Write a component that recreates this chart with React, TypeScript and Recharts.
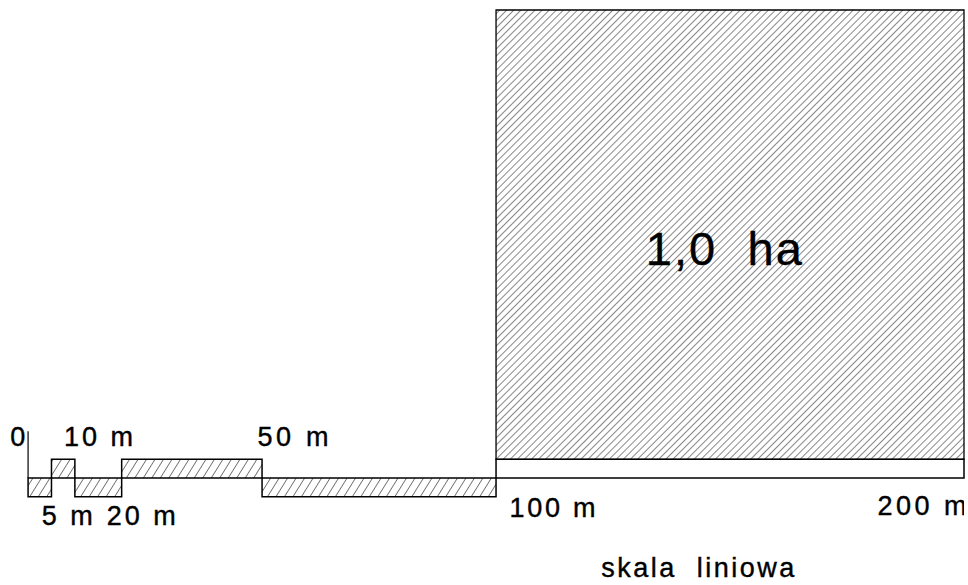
import React from "react";
import { ComposedChart, XAxis, YAxis, ReferenceArea, ReferenceLine, Scatter } from "recharts";

// odcinki skali liniowej, w metrach
const segStart = [0, 5, 10, 20, 50, 100];
const segEnd = [5, 10, 20, 50, 100, 200];
const segSide = ["down", "up", "down", "up", "down", "up"];
const segHatched = [true, true, true, true, true, false];
const barHeight = 4;

// kwadrat 1,0 ha
const squareX = [100, 200];
const squareY = [4, 100];

// podpisy (punkt zaczepienia w metrach)
const labelText = ["0", "10 m", "50 m", "5 m", "20 m", "100 m", "200 m", "skala  liniowa", "1,0  ha"];
const labelX = [-3.8, 7.7, 49.0, 2.9, 16.8, 102.9, 181.5, 122.5, 132.0];
const labelY = [6.8, 6.8, 6.8, -10.0, -10.0, -8.3, -7.8, -21.2, 45.5];

const labelData = labelText.map((text, i) => ({ x: labelX[i], y: labelY[i], text }));

const labelWidth: Record<string, number> = {
    "10 m": 69, "50 m": 71, "5 m": 51, "20 m": 69, "100 m": 86, "200 m": 89,
    "skala  liniowa": 193, "1,0  ha": 156,
};

const renderLabel = (props: any) => {
    const { cx, cy, payload } = props;
    const big = payload.text === "1,0  ha";
    const len = labelWidth[payload.text];
    return (
        <text
            x={cx}
            y={cy}
            fontFamily="'Liberation Sans', Arial, sans-serif"
            fontSize={big ? 47 : 27}
            fill="#000"
            stroke="#000"
            strokeWidth={0.4}
            xmlSpace="preserve"
            style={{ whiteSpace: "pre" }}
            textLength={len}
            lengthAdjust={len ? "spacing" : undefined}
        >
            {payload.text}
        </text>
    );
};

const App: React.FC = () => {
    return (
        <div style={{ position: "absolute", left: 0, top: 0 }}>
            <svg width={0} height={0} style={{ position: "absolute" }}>
                <defs>
                    <pattern id="hatchBig" patternUnits="userSpaceOnUse" width={5} height={5} patternTransform="rotate(45)">
                        <line x1={0} y1={0} x2={0} y2={5} stroke="#111" strokeWidth={1} strokeDasharray="6 1" />
                    </pattern>
                    <pattern id="hatchSmall" patternUnits="userSpaceOnUse" width={7.2} height={7.2} patternTransform="rotate(32)">
                        <line x1={0} y1={0} x2={0} y2={7.2} stroke="#111" strokeWidth={1.1} />
                    </pattern>
                </defs>
            </svg>
            <ComposedChart
                width={968}
                height={585}
                data={labelData}
                margin={{ top: 10, right: 4, bottom: 4, left: 0 }}
            >
                <XAxis type="number" dataKey="x" domain={[-6, 200]} allowDataOverflow hide />
                <YAxis type="number" dataKey="y" domain={[-22, 100]} allowDataOverflow hide />

                <ReferenceArea
                    x1={squareX[0]} x2={squareX[1]} y1={squareY[0]} y2={squareY[1]}
                    fill="url(#hatchBig)" fillOpacity={1} stroke="#000" strokeWidth={1.3}
                    ifOverflow="visible"
                />

                {segStart.map((s, i) => (
                    <ReferenceArea
                        key={`seg-${i}`}
                        x1={s}
                        x2={segEnd[i]}
                        y1={segSide[i] === "up" ? 0 : -barHeight}
                        y2={segSide[i] === "up" ? barHeight : 0}
                        fill={segHatched[i] ? "url(#hatchSmall)" : "#fff"}
                        fillOpacity={1}
                        stroke="#000"
                        strokeWidth={1.5}
                        ifOverflow="visible"
                    />
                ))}

                <ReferenceLine segment={[{ x: 0, y: 0 }, { x: 0, y: 10 }]} stroke="#000" strokeWidth={1.2} ifOverflow="visible" />

                <Scatter dataKey="y" shape={renderLabel} isAnimationActive={false} />
            </ComposedChart>
        </div>
    );
};

export default App;
